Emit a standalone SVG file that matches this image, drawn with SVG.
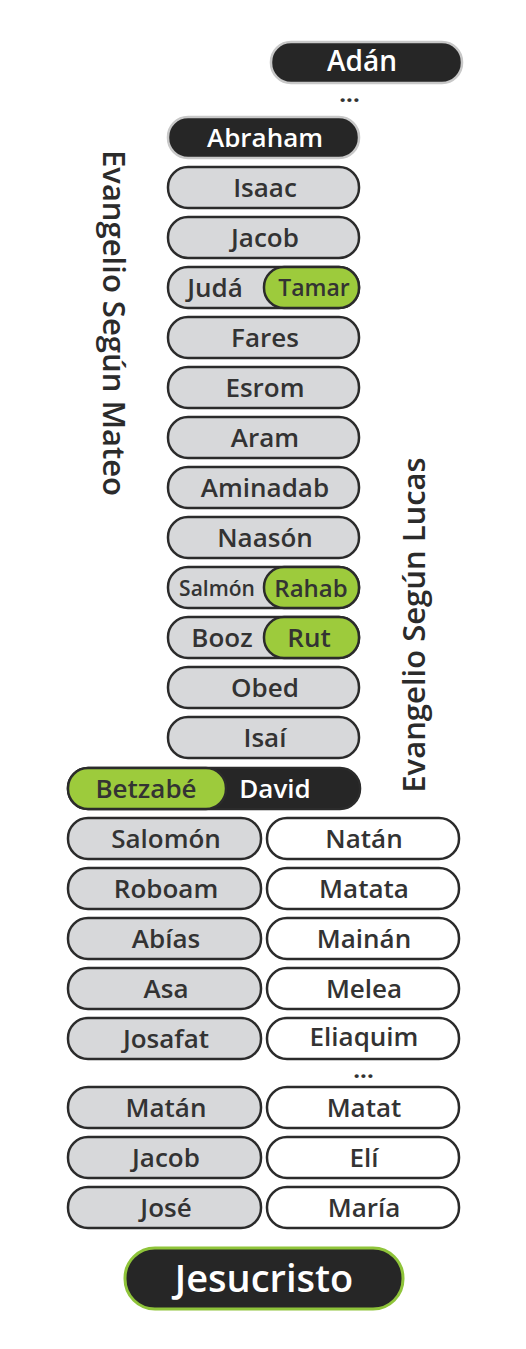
<svg xmlns="http://www.w3.org/2000/svg" width="526" height="1349" viewBox="0 0 526 1349">
<style>
.g{fill:#d7d8da;stroke:#2b2b2b;stroke-width:2.5}
.w{fill:#ffffff;stroke:#2b2b2b;stroke-width:2.5}
.k{fill:#262626;stroke:#c8c8c8;stroke-width:2.5}
.gr{fill:#9dcb3c;stroke:#2b2b2b;stroke-width:2.5}
text{font-family:"Open Sans","Liberation Sans",sans-serif;font-weight:600;font-size:26px;text-anchor:middle;fill:#333333}
.wt{fill:#ffffff}
.dots{font-weight:800;font-size:20px;letter-spacing:1px}
.lab{font-size:31px;fill:#2b2b2b}
</style>
<rect width="526" height="1349" fill="#ffffff"/>
<g id="adan"><rect class="k" x="271" y="42" width="191" height="41" rx="20"/><text class="wt" x="362" y="71" style="font-size:28px">Adán</text></g>
<text class="dots" x="350" y="102">...</text>
<g id="abraham"><rect class="k" x="168" y="117" width="191" height="41" rx="20"/><text class="wt" x="265" y="147">Abraham</text></g>
<g id="isaac"><rect class="g" x="168" y="167" width="191" height="41" rx="20"/><text x="265" y="197">Isaac</text></g>
<g id="jacob1"><rect class="g" x="168" y="217" width="191" height="41" rx="20"/><text x="265" y="247">Jacob</text></g>
<g id="juda"><rect class="g" x="168" y="267" width="191" height="41" rx="20"/><rect class="gr" x="264" y="267" width="95" height="41" rx="20"/><text x="215" y="297">Judá</text><text x="314" y="296" style="font-size:23px">Tamar</text></g>
<g id="fares"><rect class="g" x="168" y="317" width="191" height="41" rx="20"/><text x="265" y="347">Fares</text></g>
<g id="esrom"><rect class="g" x="168" y="367" width="191" height="41" rx="20"/><text x="265" y="397">Esrom</text></g>
<g id="aram"><rect class="g" x="168" y="417" width="191" height="41" rx="20"/><text x="265" y="447">Aram</text></g>
<g id="aminadab"><rect class="g" x="168" y="467" width="191" height="41" rx="20"/><text x="265" y="497">Aminadab</text></g>
<g id="naason"><rect class="g" x="168" y="517" width="191" height="41" rx="20"/><text x="265" y="547">Naasón</text></g>
<g id="salmon"><rect class="g" x="168" y="567" width="191" height="41" rx="20"/><rect class="gr" x="264" y="567" width="95" height="41" rx="20"/><text x="217" y="596" style="font-size:21px">Salmón</text><text x="311" y="597" style="font-size:24px">Rahab</text></g>
<g id="booz"><rect class="g" x="168" y="617" width="191" height="41" rx="20"/><rect class="gr" x="264" y="617" width="95" height="41" rx="20"/><text x="222" y="647">Booz</text><text x="309" y="647">Rut</text></g>
<g id="obed"><rect class="g" x="168" y="667" width="191" height="41" rx="20"/><text x="265" y="697">Obed</text></g>
<g id="isai"><rect class="g" x="168" y="717" width="191" height="41" rx="20"/><text x="265" y="747">Isaí</text></g>
<g id="david"><rect x="68" y="768" width="292" height="41" rx="20" fill="#262626" stroke="#2b2b2b" stroke-width="2.5"/><rect class="gr" x="68" y="768" width="158" height="41" rx="20"/><text x="146" y="798">Betzabé</text><text class="wt" x="275" y="798">David</text></g>
<g id="salomon"><rect class="g" x="68" y="818" width="193" height="41" rx="20"/><text x="166" y="848">Salomón</text></g>
<g id="natan"><rect class="w" x="267" y="818" width="192" height="41" rx="20"/><text x="364" y="848">Natán</text></g>
<g id="roboam"><rect class="g" x="68" y="868" width="193" height="41" rx="20"/><text x="166" y="898">Roboam</text></g>
<g id="matata"><rect class="w" x="267" y="868" width="192" height="41" rx="20"/><text x="364" y="898">Matata</text></g>
<g id="abias"><rect class="g" x="68" y="918" width="193" height="41" rx="20"/><text x="166" y="948">Abías</text></g>
<g id="mainan"><rect class="w" x="267" y="918" width="192" height="41" rx="20"/><text x="364" y="948">Mainán</text></g>
<g id="asa"><rect class="g" x="68" y="968" width="193" height="41" rx="20"/><text x="166" y="998">Asa</text></g>
<g id="melea"><rect class="w" x="267" y="968" width="192" height="41" rx="20"/><text x="364" y="998">Melea</text></g>
<g id="josafat"><rect class="g" x="68" y="1018" width="193" height="41" rx="20"/><text x="166" y="1048">Josafat</text></g>
<g id="eliaquim"><rect class="w" x="267" y="1018" width="192" height="41" rx="20"/><text x="364" y="1046">Eliaquim</text></g>
<text class="dots" x="364" y="1078">...</text>
<g id="matan"><rect class="g" x="68" y="1087" width="193" height="41" rx="20"/><text x="166" y="1117">Matán</text></g>
<g id="matat"><rect class="w" x="267" y="1087" width="192" height="41" rx="20"/><text x="364" y="1117">Matat</text></g>
<g id="jacob2"><rect class="g" x="68" y="1137" width="193" height="41" rx="20"/><text x="166" y="1167">Jacob</text></g>
<g id="eli"><rect class="w" x="267" y="1137" width="192" height="41" rx="20"/><text x="364" y="1167">Elí</text></g>
<g id="jose"><rect class="g" x="68" y="1187" width="193" height="41" rx="20"/><text x="166" y="1217">José</text></g>
<g id="maria"><rect class="w" x="267" y="1187" width="192" height="41" rx="20"/><text x="364" y="1217">María</text></g>
<g id="jesucristo"><rect x="125" y="1248" width="278" height="61" rx="30" fill="#262626" stroke="#8fc43a" stroke-width="3"/><text class="wt" x="264" y="1292" style="font-size:38px">Jesucristo</text></g>
<g id="connectors"></g>
<text class="lab" transform="translate(103,323) rotate(90)">Evangelio Según Mateo</text>
<text class="lab" transform="translate(425,625) rotate(-90)">Evangelio Según Lucas</text>
</svg>
